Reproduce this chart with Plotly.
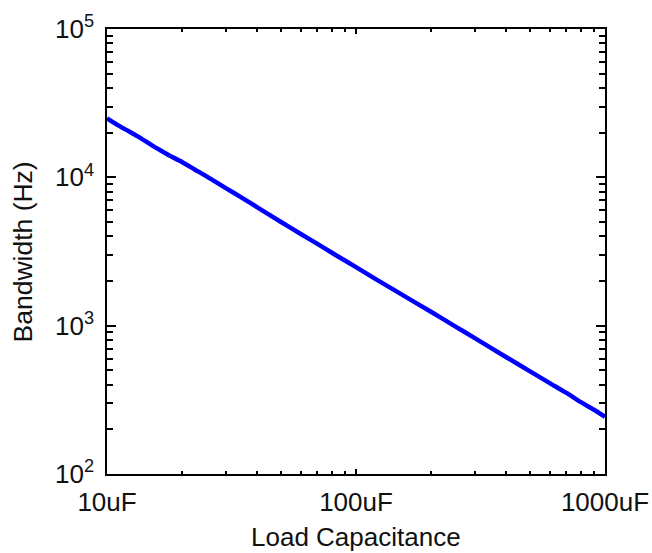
import plotly.graph_objects as go

# Data (Load capacitance in uF, bandwidth in Hz)
cap_uF = [10, 11, 12, 13.5, 15, 16.5, 18, 20, 22.5, 25, 30, 35, 40, 50, 60, 70, 80,
          100, 120, 150, 200, 250, 300, 400, 500, 600, 700, 800, 900, 1000]
bandwidth_hz = [25000, 22600, 20800, 18600, 16600, 15100, 13900, 12700, 11300, 10200,
                8450, 7250, 6300, 5000, 4150, 3560, 3100, 2480, 2060, 1650, 1240,
                990, 825, 615, 492, 410, 352, 305, 272, 243]

x_tickvals = [10, 100, 1000]
x_ticktext = ["10uF", "100uF", "1000uF"]
y_tickvals = [100, 1000, 10000, 100000]
y_ticktext = ["10<sup>2</sup>", "10<sup>3</sup>", "10<sup>4</sup>", "10<sup>5</sup>"]
x_title = "Load Capacitance"
y_title = "Bandwidth (Hz)"

x_minor = [m * d for d in (10, 100) for m in range(2, 10)]
y_minor = [m * d for d in (100, 1000, 10000) for m in range(2, 10)]

FONT = "Liberation Sans, Arial, sans-serif"

fig = go.Figure()
fig.add_trace(go.Scatter(x=cap_uF, y=bandwidth_hz, mode="lines",
                         line=dict(color="#0000ff", width=4.5, shape="spline", smoothing=0.6),
                         showlegend=False))

fig.update_layout(
    width=652, height=553,
    margin=dict(l=107, r=47, t=29, b=79, autoexpand=False),
    paper_bgcolor="white", plot_bgcolor="white",
    font=dict(family=FONT, size=26, color="#111111"),
    annotations=[
        dict(text=x_title, xref="paper", yref="paper", x=0.5, y=-0.1416,
             xanchor="center", yanchor="middle", showarrow=False,
             font=dict(size=26)),
        dict(text=y_title, xref="paper", yref="paper", x=-0.1687, y=0.5,
             xanchor="center", yanchor="middle", showarrow=False, textangle=-90,
             font=dict(size=26.5)),
    ],
)
fig.update_xaxes(
    type="log", range=[1, 3], automargin=False,
    tickvals=x_tickvals, ticktext=x_ticktext,
    ticks="inside", ticklen=5, tickwidth=2, tickcolor="black",
    minor=dict(tickvals=x_minor, ticks="inside", ticklen=3, tickwidth=2,
               tickcolor="black", showgrid=False),
    showline=True, linecolor="black", linewidth=1.5, mirror="allticks",
    showgrid=False, zeroline=False,
    tickfont=dict(size=26),
    ticklabelstandoff=4,
)
fig.update_yaxes(
    type="log", range=[2, 5], automargin=False,
    tickvals=y_tickvals, ticktext=y_ticktext,
    ticks="inside", ticklen=9, tickwidth=2, tickcolor="black",
    minor=dict(tickvals=y_minor, ticks="inside", ticklen=6, tickwidth=2,
               tickcolor="black", showgrid=False),
    showline=True, linecolor="black", linewidth=1.5, mirror="allticks",
    showgrid=False, zeroline=False,
    tickfont=dict(size=26),
    ticklabelstandoff=6,
)

fig.write_html("out.html")
